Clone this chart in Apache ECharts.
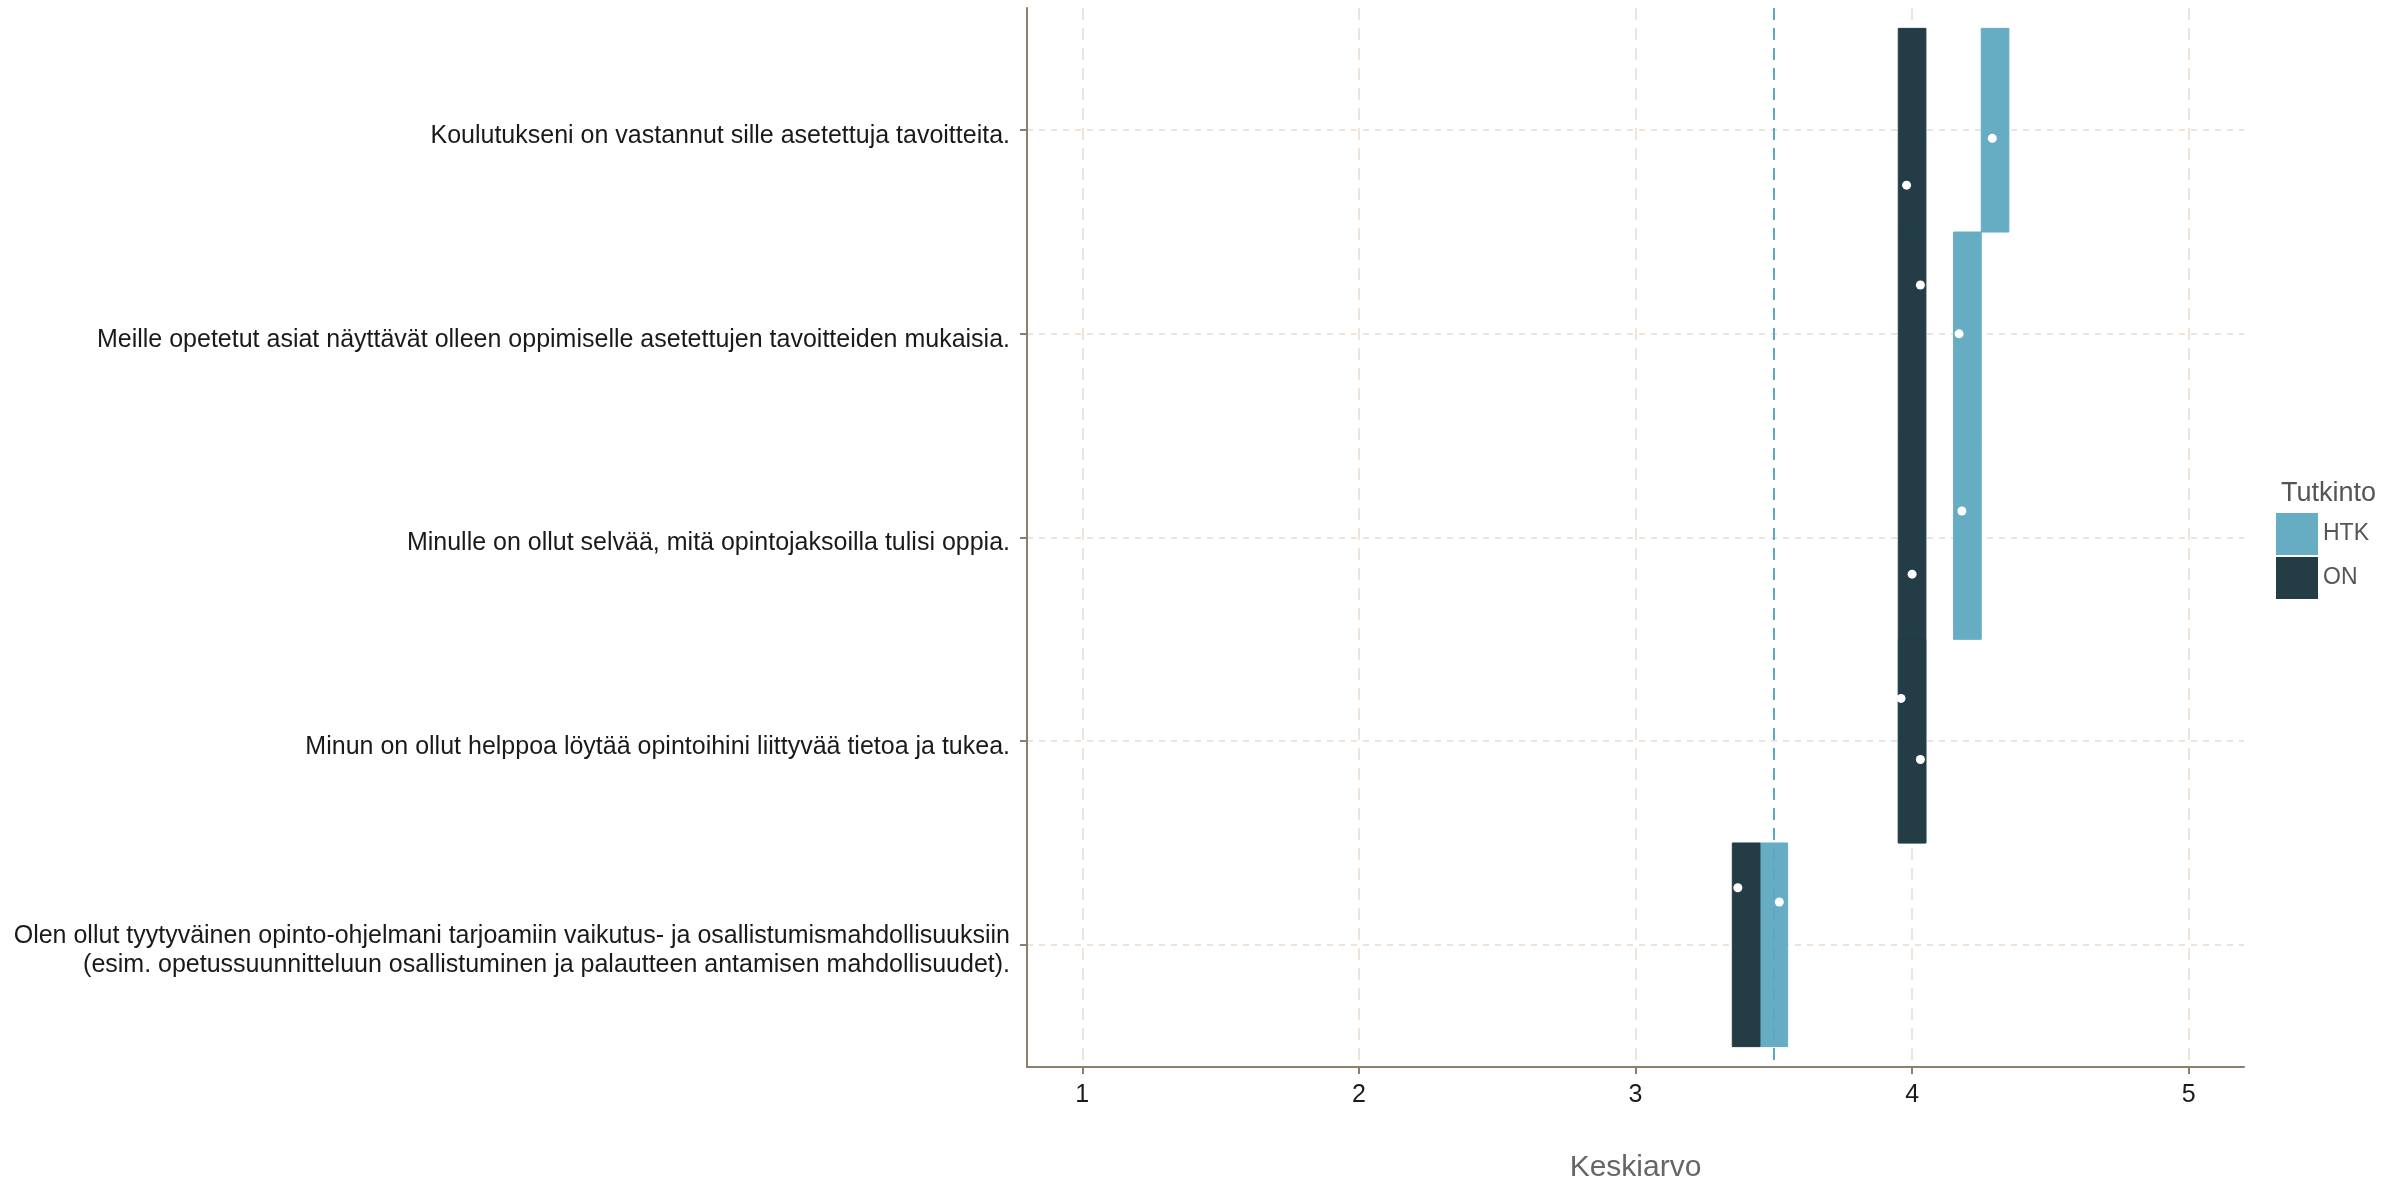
<!DOCTYPE html>
<html>
<head>
<meta charset="utf-8">
<script src="https://cdn.jsdelivr.net/npm/echarts@6/dist/echarts.min.js"></script>
<style>
html,body{margin:0;padding:0;background:#fff;}
#chart{width:2407px;height:1185px;}
</style>
</head>
<body>
<div id="chart"></div>
<script>
// Categories (top to bottom)
const categories = [
  "Koulutukseni on vastannut sille asetettuja tavoitteita.",
  "Meille opetetut asiat näyttävät olleen oppimiselle asetettujen tavoitteiden mukaisia.",
  "Minulle on ollut selvää, mitä opintojaksoilla tulisi oppia.",
  "Minun on ollut helppoa löytää opintoihini liittyvää tietoa ja tukea.",
  "Olen ollut tyytyväinen opinto-ohjelmani tarjoamiin vaikutus- ja osallistumismahdollisuuksiin\n(esim. opetussuunnitteluun osallistuminen ja palautteen antamisen mahdollisuudet)."
];
const groups = ["HTK", "ON"];
// Mean values (white dots)
const htkMeans = [4.29, 4.17, 4.18, 4.03, 3.52];
const onMeans  = [3.98, 4.03, 4.00, 3.96, 3.37];
// Jittered vertical positions of the dots (category index units)
const htkDotY = [0.04, 1.00, 1.87, 3.09, 3.79];
const onDotY  = [0.27, 0.76, 2.18, 2.79, 3.72];
// Rounded means (tile centres)
const htkTile = [4.3, 4.2, 4.2, 4.0, 3.5];
const onTile  = [4.0, 4.0, 4.0, 4.0, 3.4];
// Reference line
const refValue = 3.5;
const xTicks = [1, 2, 3, 4, 5];

const colors = { HTK: "#66adc4", ON: "#233c45" };
const FONT = "Liberation Sans, Arial, sans-serif";
const TILE_W = 0.1;

function tileData(centres) {
  return centres.map((c, i) => [c - TILE_W / 2, c + TILE_W / 2, i - 0.5, i + 0.5]);
}
function dotData(means, ys) {
  return means.map((m, i) => [m, ys[i]]);
}
function renderTile(params, api) {
  const p0 = api.coord([api.value(0), api.value(2)]);
  const p1 = api.coord([api.value(1), api.value(3)]);
  const col = api.visual('color');
  return {
    type: 'rect',
    shape: {
      x: Math.min(p0[0], p1[0]), y: Math.min(p0[1], p1[1]),
      width: Math.abs(p1[0] - p0[0]), height: Math.abs(p1[1] - p0[1])
    },
    style: { fill: col, stroke: col, lineWidth: 1 }
  };
}

const chart = echarts.init(document.getElementById('chart'), null, { renderer: 'canvas' });
const gridColor = "#eadbcf";
const axisColor = "#8c7d6c";

chart.setOption({
  animation: false,
  backgroundColor: "#ffffff",
  textStyle: { fontFamily: FONT },
  title: {
    text: "Tutkinto",
    left: 2281, top: 480,
    padding: 0,
    textStyle: { fontFamily: FONT, fontSize: 27, fontWeight: 'normal', color: "#555555" }
  },
  legend: {
    data: groups,
    orient: 'vertical',
    left: 2276, top: 513,
    padding: 0,
    itemWidth: 42, itemHeight: 42, itemGap: 2,
    icon: 'rect',
    textStyle: { fontFamily: FONT, fontSize: 23, color: "#555555" }
  },
  grid: { left: 1027, right: 163, top: 8, bottom: 118, outerBoundsMode: 'none', containLabel: false },
  xAxis: {
    type: 'value',
    min: 0.8, max: 5.2,
    name: "Keskiarvo",
    nameLocation: 'middle',
    nameGap: 86,
    nameTextStyle: { fontFamily: FONT, fontSize: 30, color: "#666666" },
    axisLine: { show: true, onZero: false, lineStyle: { color: axisColor, width: 2 } },
    axisTick: { show: true, customValues: xTicks, length: 7, lineStyle: { color: axisColor, width: 2 } },
    axisLabel: { customValues: xTicks, margin: 16, fontFamily: FONT, fontSize: 25, color: "#1a1a1a" },
    splitLine: { show: true, lineStyle: { color: gridColor, width: 1.5, type: [12, 8] } }
  },
  yAxis: {
    type: 'value',
    min: -0.6, max: 4.6,
    inverse: true,
    axisLine: { show: true, onZero: false, lineStyle: { color: axisColor, width: 2 } },
    axisTick: { show: true, customValues: [0, 1, 2, 3, 4], length: 7, lineStyle: { color: axisColor, width: 2 } },
    axisLabel: {
      customValues: [0, 1, 2, 3, 4],
      margin: 17,
      fontFamily: FONT, fontSize: 25, color: "#1a1a1a",
      lineHeight: 29, align: 'right',
      formatter: v => (categories[Math.round(v)] || '').split('\n').map(s => '{a|' + s + '}').join('\n'),
      rich: {
        a: { fontFamily: FONT, fontSize: 25, color: "#1a1a1a", lineHeight: 29, padding: [12, 0, 0, 0] }
      }
    },
    splitLine: { show: true, lineStyle: { color: gridColor, width: 1.5, type: [6, 6] } }
  },
  series: [
    {
      name: "HTK", type: 'custom', renderItem: renderTile,
      itemStyle: { color: colors.HTK },
      encode: { x: [0, 1], y: [2, 3] },
      data: tileData(htkTile), z: 2,
      markLine: {
        silent: true, symbol: ['none', 'none'], label: { show: false },
        lineStyle: { color: "#5aa8c1", type: [12, 8], width: 2 },
        data: [{ xAxis: refValue }]
      }
    },
    {
      name: "ON", type: 'custom', renderItem: renderTile,
      itemStyle: { color: colors.ON },
      encode: { x: [0, 1], y: [2, 3] },
      data: tileData(onTile), z: 3
    },
    {
      name: "HTK mean", type: 'scatter', symbol: 'circle', symbolSize: 9,
      itemStyle: { color: "#ffffff", opacity: 1 }, z: 5,
      data: dotData(htkMeans, htkDotY)
    },
    {
      name: "ON mean", type: 'scatter', symbol: 'circle', symbolSize: 9,
      itemStyle: { color: "#ffffff", opacity: 1 }, z: 5,
      data: dotData(onMeans, onDotY)
    }
  ]
});
</script>
</body>
</html>
